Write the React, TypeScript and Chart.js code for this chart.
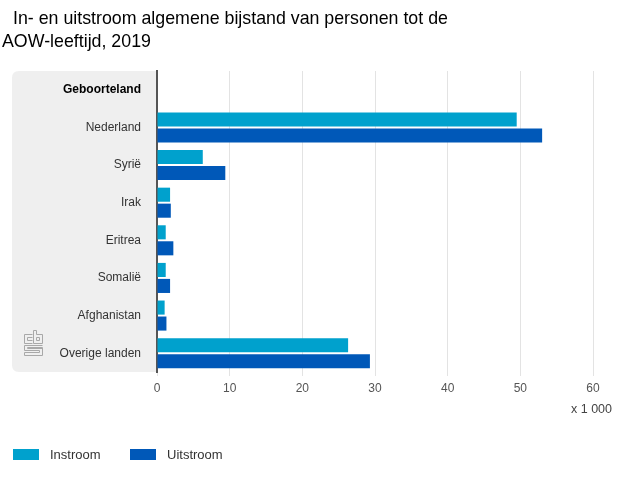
import React, { useEffect, useRef } from "react";
import { Chart, registerables } from "chart.js";

Chart.register(...registerables);

const categories = ["Geboorteland", "Nederland", "Syrië", "Irak", "Eritrea", "Somalië", "Afghanistan", "Overige landen"];
const instroom = [null, 49.5, 6.3, 1.8, 1.2, 1.2, 1.05, 26.3];
const uitstroom = [null, 53.0, 9.4, 1.9, 2.25, 1.8, 1.3, 29.3];
const seriesNames = ["Instroom", "Uitstroom"];
const seriesColors = ["#00a1cd", "#0058b8"];
const titleLines = ["In- en uitstroom algemene bijstand van personen tot de", "AOW-leeftijd, 2019"];
const unitLabel = "x 1 000";
const xTicks = [0, 10, 20, 30, 40, 50, 60];

const FONT = "'Liberation Sans', Arial, sans-serif";

const decorPlugin = {
  id: "decor",
  beforeDraw(chart: any) {
    const { ctx, chartArea } = chart;
    ctx.save();
    // grey panel
    const x = 12, y = chartArea.top, w = chartArea.left - 12, h = chartArea.bottom - chartArea.top, r = 7;
    ctx.fillStyle = "#efefef";
    ctx.beginPath();
    ctx.moveTo(x + w, y);
    ctx.lineTo(x + r, y);
    ctx.quadraticCurveTo(x, y, x, y + r);
    ctx.lineTo(x, y + h - r);
    ctx.quadraticCurveTo(x, y + h, x + r, y + h);
    ctx.lineTo(x + w, y + h);
    ctx.closePath();
    ctx.fill();
    // cbs logo (approximation)
    ctx.strokeStyle = "#a8a8a8";
    ctx.lineWidth = 1;
    const lx = 24.5, ly = 330.5;
    ctx.beginPath();
    // c
    ctx.moveTo(lx + 8, ly + 4); ctx.lineTo(lx, ly + 4); ctx.lineTo(lx, ly + 13); ctx.lineTo(lx + 8, ly + 13);
    ctx.moveTo(lx + 8, ly + 7); ctx.lineTo(lx + 3, ly + 7); ctx.lineTo(lx + 3, ly + 10); ctx.lineTo(lx + 8, ly + 10);
    // b
    ctx.moveTo(lx + 9, ly); ctx.lineTo(lx + 9, ly + 13); ctx.lineTo(lx + 18, ly + 13); ctx.lineTo(lx + 18, ly + 4); ctx.lineTo(lx + 12, ly + 4); ctx.lineTo(lx + 12, ly);
    ctx.closePath();
    ctx.rect(lx + 12, ly + 7, 3, 3);
    // s
    ctx.moveTo(lx + 18, ly + 15); ctx.lineTo(lx, ly + 15); ctx.lineTo(lx, ly + 20); ctx.lineTo(lx + 15, ly + 20); ctx.lineTo(lx + 15, ly + 22);
    ctx.lineTo(lx, ly + 22); ctx.lineTo(lx, ly + 25); ctx.lineTo(lx + 18, ly + 25); ctx.lineTo(lx + 18, ly + 17); ctx.lineTo(lx + 3, ly + 17);
    ctx.lineTo(lx + 3, ly + 18); ctx.lineTo(lx + 18, ly + 18);
    ctx.stroke();
    ctx.restore();
  },
  afterDraw(chart: any) {
    const { ctx } = chart;
    ctx.save();
    // title
    ctx.fillStyle = "#000";
    ctx.font = `17.8px ${FONT}`;
    ctx.textBaseline = "alphabetic";
    ctx.textAlign = "left";
    ctx.fillText(titleLines[0], 13, 24);
    ctx.fillText(titleLines[1], 2, 47);
    // unit label
    ctx.fillStyle = "#444";
    ctx.font = `12.5px ${FONT}`;
    ctx.textAlign = "right";
    ctx.textBaseline = "middle";
    ctx.fillText(unitLabel, 612, 410);
    // legend
    ctx.textAlign = "left";
    ctx.font = `13px ${FONT}`;
    const items = [
      { x: 13, tx: 50 },
      { x: 130, tx: 167 },
    ];
    items.forEach((it, i) => {
      ctx.fillStyle = seriesColors[i];
      ctx.fillRect(it.x, 449, 26, 11);
      ctx.fillStyle = "#333";
      ctx.fillText(seriesNames[i], it.tx, 455);
    });
    ctx.restore();
  },
};

export default function App() {
  const ref = useRef<HTMLCanvasElement>(null);
  useEffect(() => {
    document.body.style.margin = "0";
    const chart = new Chart(ref.current!, {
      type: "bar",
      data: {
        labels: categories,
        datasets: [
          { label: seriesNames[0], data: instroom as any, backgroundColor: seriesColors[0], categoryPercentage: 0.85, barPercentage: 0.88 },
          { label: seriesNames[1], data: uitstroom as any, backgroundColor: seriesColors[1], categoryPercentage: 0.85, barPercentage: 0.88 },
        ],
      },
      options: {
        indexAxis: "y",
        animation: false,
        responsive: false,
        layout: { padding: { top: 71, right: 47, left: 0, bottom: 0 } },
        plugins: { legend: { display: false }, title: { display: false }, tooltip: { enabled: false } },
        scales: {
          x: {
            min: 0,
            max: 60,
            afterBuildTicks: (scale: any) => {
              scale.ticks = xTicks.map((v) => ({ value: v }));
            },
            afterFit: (scale: any) => {
              scale.height = 108;
            },
            grid: { color: "#e3e3e3", lineWidth: 1, tickLength: 4, drawTicks: true },
            border: { display: false },
            ticks: { color: "#555", font: { family: FONT, size: 12 }, padding: 5 },
          },
          y: {
            afterFit: (scale: any) => {
              scale.width = 157;
            },
            grid: { display: false, drawTicks: false },
            border: { display: true, color: "#555", width: 2 },
            ticks: {
              padding: 16,
              color: (c: any) => (c.index === 0 ? "#000" : "#333"),
              font: (c: any) => ({ family: FONT, size: 12, weight: c.index === 0 ? "bold" : "normal" }),
            },
          },
        },
      },
      plugins: [decorPlugin],
    });
    return () => chart.destroy();
  }, []);
  return (
    <div style={{ position: "absolute", left: 0, top: 0, width: 640, height: 480 }}>
      <canvas ref={ref} width={640} height={480} style={{ width: 640, height: 480 }} />
    </div>
  );
}
